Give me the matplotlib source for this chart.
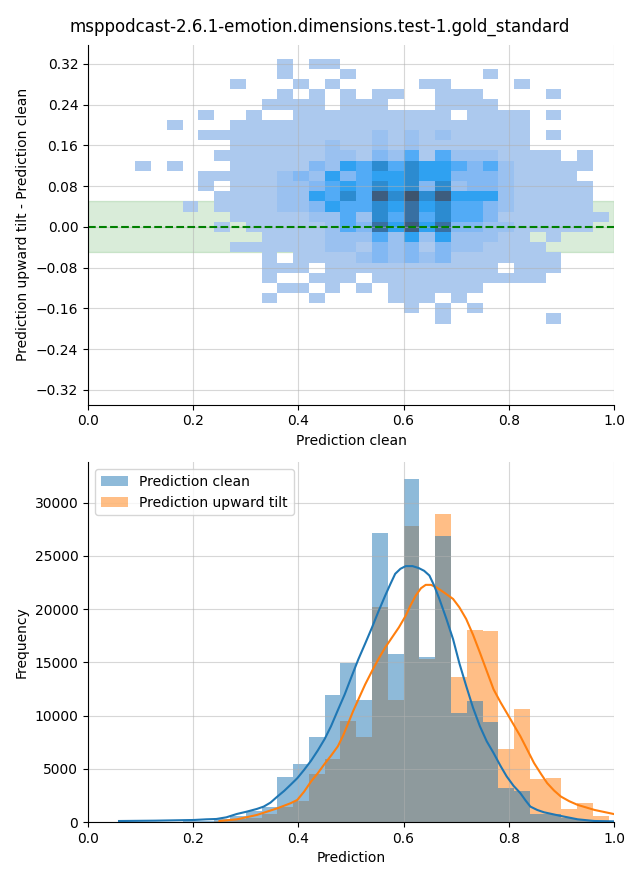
import numpy as np
import matplotlib
matplotlib.use("Agg")
import matplotlib.pyplot as plt
from matplotlib.colors import ListedColormap, to_rgb
from matplotlib.ticker import MultipleLocator
from seaborn.external import husl

# ==============================
# DATA
# ==============================
title = "msppodcast-2.6.1-emotion.dimensions.test-1.gold_standard"

# 2D histogram of (clean, tilt - clean): cell intensity level per bin,
# rows from top (0.31..0.33) to bottom (-0.19..-0.17), '.' = empty
cell_x0, cell_w = 0.09, 0.03
cell_y0, cell_h = -0.19, 0.02
cell_levels = [
    ".........1.11.................",
    ".........1...1........1.......",
    "......1...1.1.....11....1.....",
    ".........1.1.1.11..111....1...",
    "........1111.111...1111.......",
    "....1..1..1111111111.1111.1...",
    "..1...1111111111111111111.....",
    "....111111111112121211111.1...",
    "......1111112112121111111.....",
    ".....1111111221324142221111.1.",
    "1.1...11111325464655434211111.",
    "....111112325345565533321111..",
    "....1.11122345465636233211111.",
    ".....111122546486968555211111.",
    "...1.111122354465756443211111.",
    "......111112242647464431111111",
    ".....1.1111124375857332211111.",
    "........11112224252522211.1...",
    "......11111122132313221111....",
    "........1.11112323231111111...",
    "........111.11111111111.111...",
    "........1..111.11111111111....",
    ".........11.1.1.111111........",
    "........1..1....111.1.........",
    ".................1.1.1........",
    "...................1......1...",
]
# relative count (share of the max cell) for each level 1..9
level_share = [0.0, 0.07, 0.15, 0.27, 0.36, 0.54, 0.76, 0.92, 1.0]

# 1D histograms (bin start 0.06, width 0.03)
bin_x0, bin_w = 0.06, 0.03
clean_counts = [10, 20, 30, 45, 70, 120, 250, 550, 1000, 1450,
                4250, 5470, 7960, 11890, 14910, 11420, 27170, 15750, 32170, 15530,
                26890, 10190, 11320, 9430, 3240, 2920, 780, 750, 350, 150, 60]
tilt_counts = [0, 0, 0, 5, 15, 40, 100, 250, 420, 750,
               1450, 2000, 4530, 5880, 9530, 7960, 20190, 11450, 27830, 15350,
               28960, 13580, 18020, 17920, 6890, 10570, 4060, 4150, 1180, 1790, 550]

# KDE curves (scaled to counts)
kde_clean_x = [0.059, 0.128, 0.201, 0.225, 0.244, 0.263, 0.283, 0.302, 0.321, 0.334,
               0.347, 0.360, 0.373, 0.385, 0.398, 0.411, 0.424, 0.437, 0.450, 0.462,
               0.475, 0.488, 0.501, 0.514, 0.527, 0.540, 0.552, 0.565, 0.575, 0.584,
               0.594, 0.604, 0.617, 0.629, 0.639, 0.649, 0.658, 0.668, 0.681, 0.694,
               0.706, 0.719, 0.732, 0.745, 0.758, 0.771, 0.784, 0.796, 0.809, 0.822,
               0.832, 0.841, 0.854, 0.867, 0.899, 0.931, 0.963, 0.999]
kde_clean_y = [94, 126, 189, 252, 283, 440, 755, 975, 1227, 1447,
               1824, 2390, 2925, 3491, 4120, 4906, 5755, 6730, 7800, 8995,
               10504, 11982, 13649, 15285, 16763, 18272, 19751, 21260, 22361, 23304,
               23776, 24028, 24028, 23839, 23588, 23147, 22204, 20946, 19122, 17172,
               14907, 12769, 10724, 8995, 7579, 6479, 5284, 4277, 3397, 2705,
               2013, 1447, 1132, 912, 566, 252, 94, 63]
kde_tilt_x = [0.250, 0.283, 0.321, 0.360, 0.385, 0.398, 0.411, 0.424, 0.437, 0.450,
              0.462, 0.475, 0.485, 0.495, 0.504, 0.514, 0.527, 0.540, 0.552, 0.565,
              0.578, 0.591, 0.604, 0.613, 0.623, 0.633, 0.642, 0.652, 0.662, 0.678,
              0.694, 0.706, 0.719, 0.732, 0.745, 0.758, 0.771, 0.784, 0.796, 0.809,
              0.822, 0.835, 0.848, 0.861, 0.873, 0.886, 0.899, 0.915, 0.931, 0.963,
              0.999]
kde_tilt_y = [94, 252, 660, 1289, 1761, 2076, 2862, 3805, 4592, 5472,
              6227, 7108, 8114, 9309, 10410, 11511, 12926, 14184, 15285, 16385,
              17329, 18272, 19373, 20317, 21260, 21952, 22267, 22267, 22046, 21512,
              20946, 20159, 19059, 17581, 15914, 14184, 12454, 11259, 10253, 9152,
              8051, 6793, 5535, 4529, 3648, 2956, 2390, 1950, 1604, 1132,
              755]


def husl_cmap(color):
    # same ramp seaborn uses for a bivariate histogram
    r, g, b = to_rgb(color)
    h, s, _ = husl.rgb_to_husl(r, g, b)
    xx = np.linspace(-1, 1, int(1.15 * 256))[:256]
    ramp = np.zeros((256, 3))
    ramp[:, 0] = h
    ramp[:, 1] = s * np.cos(xx)
    ramp[:, 2] = np.linspace(35, 80, 256)
    colors = np.clip([husl.husl_to_rgb(*hsl) for hsl in ramp], 0, 1)
    return ListedColormap(colors[::-1])


fig, (ax1, ax2) = plt.subplots(2, 1, figsize=(6.4, 8.8), dpi=100)
fig.subplots_adjust(left=0.1375, right=0.9594, top=0.9489, bottom=0.0659, hspace=0.16)
fig.suptitle(title, fontsize=12, y=0.98)

# ==============================
# TOP: 2D HISTOGRAM
# ==============================
grid = np.array([[np.nan if c == "." else level_share[int(c) - 1] for c in row]
                 for row in cell_levels])[::-1]
x_edges = cell_x0 + cell_w * np.arange(grid.shape[1] + 1)
y_edges = cell_y0 + cell_h * np.arange(grid.shape[0] + 1)

ax1.axhspan(-0.05, 0.05, color="green", alpha=0.15)
ax1.pcolormesh(x_edges, y_edges, np.ma.masked_invalid(grid), cmap=husl_cmap("C0"), vmin=0, vmax=1)
ax1.axhline(0, color="green", linestyle="--", linewidth=1.5)
ax1.set_xlim(0, 1)
ax1.set_ylim(-0.349, 0.357)
ax1.yaxis.set_major_locator(MultipleLocator(0.08))
ax1.set_xlabel("Prediction clean")
ax1.set_ylabel("Prediction upward tilt - Prediction clean")
ax1.grid(True, alpha=0.5)

# ==============================
# BOTTOM: HISTOGRAMS + KDE
# ==============================
lefts = bin_x0 + bin_w * np.arange(len(clean_counts))
b_tilt = ax2.bar(lefts, tilt_counts, width=bin_w, align="edge", color="C1", alpha=0.5,
                 linewidth=0, label="Prediction upward tilt")
b_clean = ax2.bar(lefts, clean_counts, width=bin_w, align="edge", color="C0", alpha=0.5,
                  linewidth=0, label="Prediction clean")
ax2.plot(kde_tilt_x, kde_tilt_y, color="C1", linewidth=1.5)
ax2.plot(kde_clean_x, kde_clean_y, color="C0", linewidth=1.5)
ax2.set_xlim(0, 1)
ax2.set_xlabel("Prediction")
ax2.set_ylabel("Frequency")
ax2.grid(True, alpha=0.5)
ax2.legend(handles=[b_clean, b_tilt], loc="upper left")

for ax in (ax1, ax2):
    ax.spines["top"].set_visible(False)
    ax.spines["right"].set_visible(False)

plt.savefig("out.png")
